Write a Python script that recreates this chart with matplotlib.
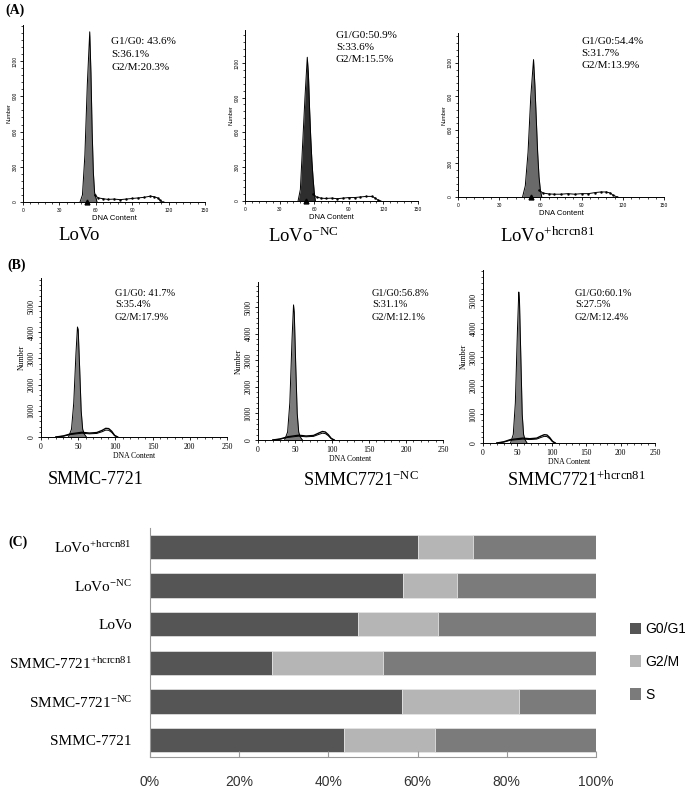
import numpy as np
import matplotlib
matplotlib.use("Agg")
import matplotlib.pyplot as plt
from matplotlib.ticker import MultipleLocator, FixedLocator
from matplotlib.patches import Patch

plt.rcParams['mathtext.fontset'] = 'custom'
plt.rcParams['mathtext.rm'] = 'Liberation Serif'
plt.rcParams['mathtext.it'] = 'Liberation Serif'
plt.rcParams['mathtext.bf'] = 'Liberation Serif:bold'

W, H = 685, 789

# ---- panel C: cell-cycle distribution (%), listed bottom to top
cells = ["SMMC-7721", "SMMC-7721$^{\\mathrm{-NC}}$", "SMMC-7721$^{\\mathrm{+hcrcn81}}$",
         "LoVo", "LoVo$^{\\mathrm{-NC}}$", "LoVo$^{\\mathrm{+hcrcn81}}$"]
g0g1 = [43.6, 56.5, 27.3, 46.7, 56.8, 60.1]
g2m = [20.3, 26.3, 25.0, 17.9, 12.1, 12.4]
s_phase = [36.1, 17.2, 47.7, 35.4, 31.1, 27.5]
x_ticks = [0, 20, 40, 60, 80, 100]

# ---- panel A histograms (DNA content, count)
a_titles = ["LoVo", "LoVo$^{\\mathrm{-NC}}$", "LoVo$^{\\mathrm{+hcrcn81}}$"]
a_stats = [["G1/G0: 43.6%", "S:36.1%", "G2/M:20.3%"],
           ["G1/G0:50.9%", "S:33.6%", "G2/M:15.5%"],
           ["G1/G0:54.4%", "S:31.7%", "G2/M:13.9%"]]
a_peak_x = [[47, 49, 51, 53, 55, 56, 57, 58, 59, 60, 61],
            [46, 48, 50, 52, 54, 55, 56, 57, 58, 59, 60, 61],
            [47, 49, 51, 53, 55, 56, 57, 58, 59, 60, 61]]
a_peak_y = [[0, 60, 400, 1000, 1450, 1100, 600, 250, 80, 40, 0],
            [0, 100, 500, 900, 1250, 1100, 800, 550, 350, 200, 80, 0],
            [0, 100, 400, 900, 1230, 1000, 700, 400, 180, 60, 0]]
a_tail_x = [[59, 62, 66, 70, 75, 80, 85, 90, 95, 100, 105, 108, 111, 113, 115],
            [59, 62, 66, 70, 75, 80, 85, 90, 95, 100, 105, 110, 113, 115, 117],
            [59, 62, 66, 70, 75, 80, 85, 90, 95, 100, 104, 108, 111, 113, 116]]
a_tail_y = [[60, 35, 28, 22, 25, 20, 25, 30, 35, 40, 50, 45, 35, 15, 0],
            [60, 35, 25, 22, 25, 20, 25, 30, 30, 35, 40, 40, 25, 10, 0],
            [60, 35, 28, 25, 25, 30, 25, 30, 30, 40, 45, 45, 35, 15, 0]]
a_ymax = [1508, 1487, 1468]
a_yticks = [0, 300, 600, 900, 1200]

# ---- panel B histograms
b_titles = ["SMMC-7721", "SMMC7721$^{\\mathrm{-NC}}$", "SMMC7721$^{\\mathrm{+hcrcn81}}$"]
b_stats = [["G1/G0: 41.7%", "S:35.4%", "G2/M:17.9%"],
           ["G1/G0:56.8%", "S:31.1%", "G2/M:12.1%"],
           ["G1/G0:60.1%", "S:27.5%", "G2/M:12.4%"]]
b_peak_x = [[37, 41, 44, 47, 49, 50, 52, 54, 56, 58, 61],
            [36, 40, 43, 46, 48, 49, 51, 53, 55, 57, 60],
            [40, 44, 47, 50, 52, 53, 55, 57, 59, 61, 64]]
b_peak_y = [[0, 300, 1300, 3200, 4200, 4100, 2600, 1000, 300, 120, 0],
            [0, 300, 1400, 3800, 5080, 4800, 2800, 1000, 300, 120, 0],
            [0, 300, 1400, 3900, 5280, 5000, 3000, 1000, 300, 120, 0]]
b_fit_x = [[20, 30, 40, 55, 65, 75, 82, 87, 91, 95, 99, 103],
           [20, 30, 40, 55, 65, 75, 82, 87, 91, 95, 99, 103],
           [20, 30, 40, 58, 68, 78, 84, 89, 93, 97, 101, 105]]
b_fit_y = [[0, 40, 120, 180, 150, 170, 250, 330, 320, 220, 60, 0],
           [0, 40, 120, 180, 150, 170, 260, 320, 300, 200, 60, 0],
           [0, 40, 120, 170, 150, 170, 240, 290, 280, 190, 60, 0]]
b_ymax = [6070, 5940, 6050]
b_yticks = [0, 1000, 2000, 3000, 4000, 5000]

fig = plt.figure(figsize=(W / 100, H / 100), dpi=100)


def px_axes(l, t, r, b):
    return fig.add_axes([l / W, 1 - b / H, (r - l) / W, (b - t) / H])


def style_hist(ax, font, fs):
    for sp in ["top", "right"]:
        ax.spines[sp].set_visible(False)
    ax.spines["left"].set_linewidth(0.7)
    ax.spines["bottom"].set_linewidth(0.7)
    ax.tick_params(which="major", direction="out", length=2.5, width=0.6, pad=1.5)
    ax.tick_params(which="minor", direction="out", length=1.5, width=0.5)
    for lab in ax.get_xticklabels() + ax.get_yticklabels():
        lab.set_fontfamily(font)
        lab.set_fontsize(fs)
    for lab in ax.get_yticklabels():
        lab.set_rotation(90)
        lab.set_va("center")


# panel A axes: (left, top, right, bottom) in pixels
a_boxes = [(23, 25, 205, 202), (245, 30, 418, 201), (458, 33, 664, 197)]
a_text_pos = [(111, 42), (336, 35), (581, 41)]
a_title_x = [58, 268, 500]
a_fill = ["#6e6e6e", "#2e2e2e", "#6a6a6a"]
for i in range(3):
    ax = px_axes(*a_boxes[i])
    ax.fill_between(a_peak_x[i], a_peak_y[i], color=a_fill[i], lw=0)
    ax.plot(a_peak_x[i], a_peak_y[i], color="black", lw=0.7)
    ax.plot(a_tail_x[i], a_tail_y[i], color="black", lw=0.7, marker=".", ms=1.5)
    ax.plot([53], [0], marker="^", color="black", ms=3.5, clip_on=False)
    ax.set_xlim(0, 150)
    ax.set_ylim(0, a_ymax[i])
    ax.xaxis.set_major_locator(MultipleLocator(30))
    ax.xaxis.set_minor_locator(MultipleLocator(6))
    ax.yaxis.set_major_locator(FixedLocator(a_yticks))
    ax.yaxis.set_minor_locator(MultipleLocator(60))
    ax.set_xlabel("DNA Content", fontsize=5.5, labelpad=1.5, fontfamily="Liberation Sans")
    ax.set_ylabel("Number", fontsize=4, labelpad=1, fontfamily="Liberation Sans")
    style_hist(ax, "Liberation Sans", 3.5)
    tx, ty = a_text_pos[i]
    for k, line in enumerate(a_stats[i]):
        fig.text(tx / W, 1 - (ty + k * 12.5) / H, line, fontsize=8,
                 fontfamily="Liberation Serif", va="center")
    fig.text(a_title_x[i] / W, 1 - 236 / H, a_titles[i], fontsize=13.5,
             fontfamily="Liberation Serif", va="center")

# panel B axes
b_boxes = [(41, 278, 227, 437), (258, 282, 443, 440), (483, 270, 655, 443)]
b_text_pos = [(115, 293), (372, 293), (575, 293)]
b_title_x = [48, 303, 507]
for i in range(3):
    ax = px_axes(*b_boxes[i])
    ax.fill_between(b_peak_x[i], b_peak_y[i], color="#7c7c7c", lw=0)
    ax.plot(b_peak_x[i], b_peak_y[i], color="black", lw=0.7)
    ax.plot(b_fit_x[i], b_fit_y[i], color="black", lw=1.0)
    ax.plot(b_fit_x[i], [v * 0.8 for v in b_fit_y[i]], color="black", lw=0.7)
    ax.set_xlim(0, 250)
    ax.set_ylim(0, b_ymax[i])
    ax.xaxis.set_major_locator(MultipleLocator(50))
    ax.xaxis.set_minor_locator(MultipleLocator(10))
    ax.yaxis.set_major_locator(FixedLocator(b_yticks))
    ax.yaxis.set_minor_locator(MultipleLocator(200))
    ax.set_xlabel("DNA Content", fontsize=5.5, labelpad=1, fontfamily="Liberation Serif")
    ax.set_ylabel("Number", fontsize=5.5, labelpad=1, fontfamily="Liberation Serif")
    style_hist(ax, "Liberation Serif", 5.5)
    tx, ty = b_text_pos[i]
    for k, line in enumerate(b_stats[i]):
        fig.text(tx / W, 1 - (ty + k * 12) / H, line, fontsize=7.5,
                 fontfamily="Liberation Serif", va="center")
    fig.text(b_title_x[i] / W, 1 - 480 / H, b_titles[i], fontsize=13,
             fontfamily="Liberation Serif", va="center")

# panel letters
for lab, x, y in [("(A)", 5, 10), ("(B)", 7, 265), ("(C)", 8, 542)]:
    fig.text(x / W, 1 - y / H, lab, fontsize=10, fontweight="bold",
             fontfamily="Liberation Serif", va="center")

# panel C stacked bars
axc = px_axes(150, 528, 596, 757)
ypos = np.arange(len(cells))
colors = ["#555555", "#b5b5b5", "#7b7b7b"]
names = ["G0/G1", "G2/M", "S"]
left = np.zeros(len(cells))
for vals, col in zip([g0g1, g2m, s_phase], colors):
    axc.barh(ypos, vals, left=left, height=0.63, color=col, edgecolor="#e6e6e6", lw=0.5)
    left = left + np.array(vals)
axc.set_xlim(0, 100)
axc.set_ylim(-0.44, 5.49)
axc.set_xticks(x_ticks)
axc.set_xticklabels([f"{v}%" for v in x_ticks], fontsize=10, color="#333333",
                    fontfamily="Liberation Sans")
axc.set_yticks(ypos)
axc.set_yticklabels(cells, fontsize=11, fontfamily="Liberation Serif")
axc.tick_params(axis="x", direction="in", length=4, color="#999999", pad=13)
axc.tick_params(axis="y", length=0, pad=13)
for sp in ["top", "right"]:
    axc.spines[sp].set_visible(False)
axc.spines["left"].set_color("#999999")
axc.spines["bottom"].set_color("#999999")

handles = [Patch(facecolor=c, edgecolor="none") for c in colors]
fig.legend(handles, names, loc="center left", bbox_to_anchor=(630 / W, 1 - 662 / H),
           frameon=False, handlelength=0.8, handleheight=0.9,
           handletextpad=0.3, labelspacing=1.35, borderpad=0, borderaxespad=0,
           prop={"family": "Liberation Sans", "size": 10})

fig.savefig("out.png", dpi=100)
